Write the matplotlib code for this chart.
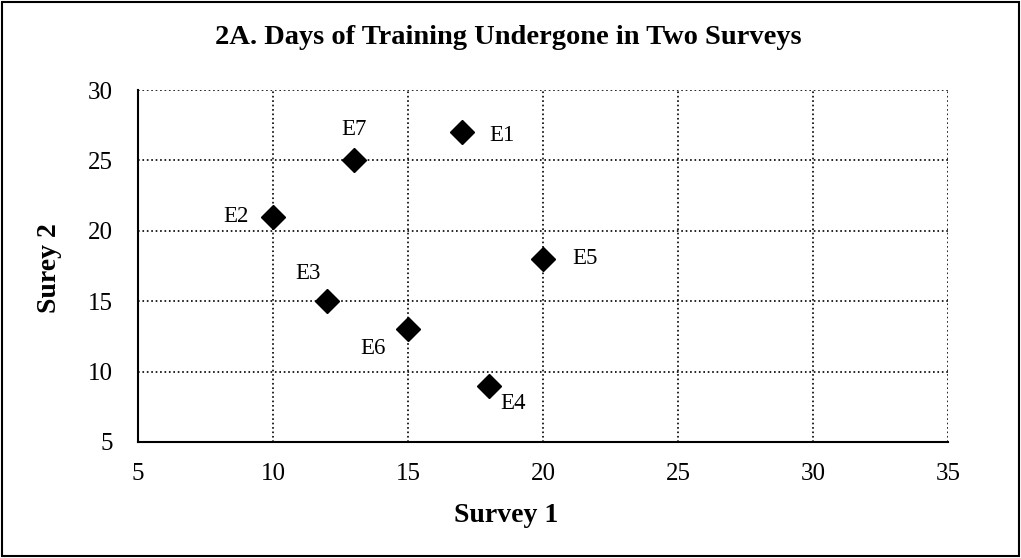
import matplotlib.pyplot as plt

# data
names = ['E1', 'E2', 'E3', 'E4', 'E5', 'E6', 'E7']
survey1 = [17, 10, 12, 18, 20, 15, 13]
survey2 = [27, 21, 15, 9, 18, 13, 25]
# label offsets (points)
offsets = {'E1': (29, -2), 'E2': (-27, 0), 'E3': (-14, 20), 'E4': (17, -13),
           'E5': (30, 0), 'E6': (-25, -14), 'E7': (0, 22)}

plt.rcParams['font.family'] = ['Liberation Serif', 'DejaVu Serif']

fig = plt.figure(figsize=(10.21, 5.58), dpi=100)
ax = fig.add_axes([0.1352, 0.2079, 0.7933, 0.6308])

ax.plot(survey1, survey2, linestyle='none', marker='D', markersize=12.5, color='black')
for n, x, y in zip(names, survey1, survey2):
    dx, dy = offsets[n]
    ax.annotate(n, (x, y), xytext=(dx, dy), textcoords='offset points',
                ha='center', va='center', fontsize=16.5)

ax.set_xlim(5, 35)
ax.set_ylim(5, 30)
ax.set_xticks(range(5, 36, 5))
ax.set_yticks(range(5, 31, 5))
ax.grid(True, linestyle=':', color='black', linewidth=1.2)
ax.tick_params(length=0, labelsize=18)
ax.tick_params(axis='y', pad=18)
ax.tick_params(axis='x', pad=15)
for s in ['top', 'right']:
    ax.spines[s].set_visible(False)
for s in ['left', 'bottom']:
    ax.spines[s].set_linewidth(1.5)

# titles (positioned like the original)
fig.text(0.4975, 1 - 38 / 558, '2A. Days of Training Undergone in Two Surveys',
         fontsize=20.5, fontweight='bold', ha='center', va='center')
fig.text(506 / 1021, 1 - 515 / 558, 'Survey 1', fontsize=20, fontweight='bold',
         ha='center', va='center')
fig.text(50 / 1021, 1 - 268 / 558, 'Surey 2', fontsize=20, fontweight='bold',
         ha='center', va='center', rotation=90)

# figure border
fig.patches.append(plt.Rectangle((0.002, 0.003), 0.996, 0.994, transform=fig.transFigure,
                                 fill=False, edgecolor='black', linewidth=1.5))

fig.savefig('out.png', dpi=100)
